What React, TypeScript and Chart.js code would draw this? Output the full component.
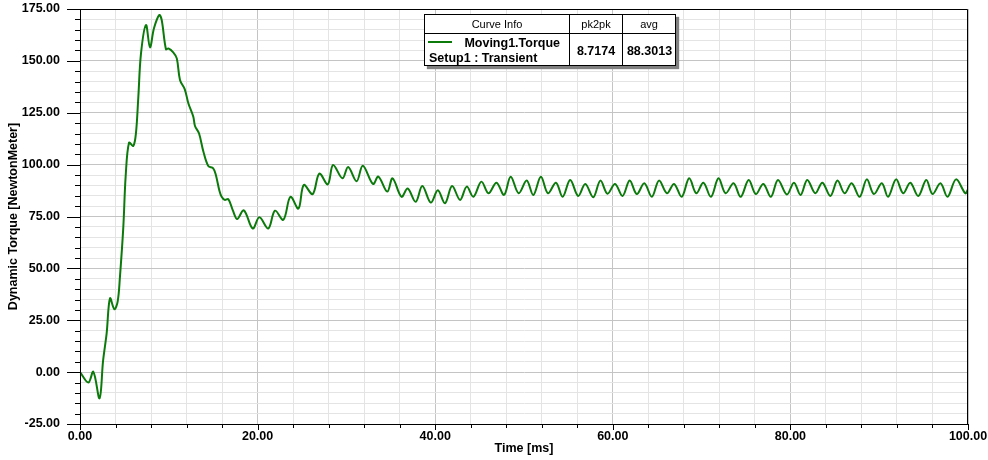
import React, { useEffect, useRef } from "react";
import { Chart, registerables } from "chart.js";

Chart.register(...registerables);

// ---- data ----
const timeMs = [
  0, 0.94, 1.5, 2.2, 2.6, 3.0, 3.38, 3.87, 4.24, 4.5,
  4.88, 5.14, 5.52, 6.0, 6.3, 6.57, 6.87, 7.43, 7.88, 8.33,
  8.93, 9.2, 9.68, 9.95, 10.5, 10.9, 11.26, 11.8, 12.2, 12.76,
  12.95, 13.4, 13.9, 14.45, 15.0, 15.3, 15.7, 15.95, 16.3, 16.7,
  17.2, 17.7, 18.45, 19.45, 20.2, 21.2, 21.96, 22.9, 23.7, 24.6,
  25.2, 26.2, 26.95, 27.9, 28.5, 29.55, 30.2, 31.15, 31.85, 33.0,
  33.6, 34.6, 35.2, 36.2, 36.9, 37.8, 38.55, 39.5, 40.3, 41.1,
  41.9, 42.8, 43.55, 44.3, 45.2, 46.0, 46.9, 47.75, 48.5, 49.4,
  50.3, 51.05, 51.9, 52.7, 53.6, 54.35, 55.2, 56.1, 56.9, 57.8,
  58.6, 59.4, 60.25, 61.1, 61.9, 62.7, 63.55, 64.4, 65.2, 66.1,
  66.9, 67.76, 68.6, 69.4, 70.2, 71.05, 71.9, 72.7, 73.6, 74.4,
  75.3, 76.1, 76.95, 77.8, 78.6, 79.6, 80.4, 81.15, 81.9, 82.8,
  83.6, 84.5, 85.3, 86.1, 86.9, 87.8, 88.6, 89.4, 90.3, 91.0,
  91.9, 92.7, 93.5, 94.4, 95.3, 96.0, 96.9, 97.7, 98.65, 99.7,
  100,
];

const torque = [
  0, -5.0, 0.2, -12.6, 5.5, 18.7, 35.6, 30.3, 34, 46,
  70.1, 94.2, 110.6, 109, 115.1, 132.7, 153.6, 167.3, 156.5, 165.7,
  172.1, 169.7, 155.6, 156, 154.1, 151.2, 140.8, 136.3, 129.6, 123.1,
  118.6, 115.1, 106.2, 99.3, 98.2, 95, 87.4, 84.5, 83, 83.4,
  78.1, 73.8, 78, 69.2, 74.6, 69.2, 77.8, 73.4, 84.5, 78.8,
  90.2, 85.8, 95.7, 90.5, 99.8, 93.4, 98.9, 92, 99.5, 90.7,
  94.2, 87, 93.4, 84.5, 88.5, 82.1, 89.7, 81.7, 87.6, 81.4,
  89.7, 83, 89.4, 84.5, 91.8, 86.2, 91.3, 85.4, 94.2, 86.2,
  92.3, 85.4, 94.2, 86.2, 91.3, 84.5, 92.6, 84.9, 90.7, 84.3,
  92.3, 86.0, 90.7, 84.9, 92.3, 85.8, 91.0, 84.5, 92.3, 86.2,
  90.7, 84.5, 93.4, 86.2, 91.3, 84.5, 93.4, 86.2, 91.0, 84.5,
  92.6, 85.8, 90.7, 84.5, 92.6, 85.6, 91.3, 85.4, 92.6, 86.2,
  91.3, 84.9, 92.3, 86.2, 91.0, 84.5, 92.9, 85.8, 91.0, 84.5,
  92.9, 86.2, 91.3, 84.9, 92.6, 85.8, 91.0, 84.5, 92.9, 86.2,
  88.1,
];

const seriesName = "Moving1.Torque";
const seriesSetup = "Setup1 : Transient";
const infoHeaders = ["Curve Info", "pk2pk", "avg"];
const infoValues = ["8.7174", "88.3013"];

const xMin = 0;
const xMax = 100;
const xStep = 4;
const xMajor = 20;
const yMin = -25;
const yMax = 175;
const yStep = 5;
const yMajor = 25;

const xTitle = "Time [ms]";
const yTitle = "Dynamic Torque [NewtonMeter]";

const FONT = "'Liberation Sans', Arial, Helvetica, sans-serif";
const LINE_COLOR = "#0b7a0b";
const MINOR_GRID = "#e4e4e4";
const MAJOR_GRID = "#c4c4c4";

const isMult = (v: number, m: number) => Math.abs(v / m - Math.round(v / m)) < 1e-6;

const framePlugin = {
  id: "frameTicks",
  afterDraw(chart: any) {
    const { ctx, chartArea } = chart;
    const { left, right, top, bottom } = chartArea;
    const xs = chart.scales.x;
    const ys = chart.scales.y;
    ctx.save();
    ctx.strokeStyle = "#000";
    ctx.lineWidth = 1;
    ctx.beginPath();
    ctx.rect(Math.round(left) + 0.5, Math.round(top) + 0.5, Math.round(right - left) - 1, Math.round(bottom - top));
    ctx.stroke();
    ctx.beginPath();
    ys.ticks.forEach((t: any) => {
      const py = Math.round(ys.getPixelForValue(t.value)) + 0.5;
      const len = isMult(t.value, yMajor) ? 13 : 5;
      ctx.moveTo(left - len, py);
      ctx.lineTo(left, py);
    });
    xs.ticks.forEach((t: any) => {
      const px = Math.round(xs.getPixelForValue(t.value)) + 0.5;
      const len = isMult(t.value, xMajor) ? 6 : 4;
      ctx.moveTo(px, bottom);
      ctx.lineTo(px, bottom + len);
    });
    ctx.stroke();
    ctx.restore();
  },
};

function InfoBox() {
  const abs = (s: React.CSSProperties): React.CSSProperties => ({ position: "absolute", ...s });
  const bold: React.CSSProperties = { fontFamily: FONT, fontWeight: "bold", fontSize: "12.5px", lineHeight: "14px", whiteSpace: "nowrap", color: "#000" };
  const reg: React.CSSProperties = { fontFamily: FONT, fontSize: "11px", lineHeight: "13px", whiteSpace: "nowrap", color: "#000" };
  return (
    <>
      <div style={abs({ left: 424, top: 14, width: 252, height: 52, boxSizing: "border-box", border: "1px solid #000", background: "#fff", boxShadow: "3px 3px 1px #808080" })} />
      <div style={abs({ left: 424, top: 33, width: 252, height: 1, background: "#000" })} />
      <div style={abs({ left: 569, top: 14, width: 1, height: 52, background: "#000" })} />
      <div style={abs({ left: 622, top: 14, width: 1, height: 52, background: "#000" })} />
      <div style={abs({ ...reg, left: 425, top: 18, width: 144, textAlign: "center" })}>{infoHeaders[0]}</div>
      <div style={abs({ ...reg, left: 570, top: 18, width: 52, textAlign: "center" })}>{infoHeaders[1]}</div>
      <div style={abs({ ...reg, left: 623, top: 18, width: 52, textAlign: "center" })}>{infoHeaders[2]}</div>
      <div style={abs({ left: 428, top: 41, width: 24, height: 2, background: LINE_COLOR })} />
      <div style={abs({ ...bold, left: 440, top: 36, width: 120, textAlign: "right" })}>{seriesName}</div>
      <div style={abs({ ...bold, left: 429, top: 51 })}>{seriesSetup}</div>
      <div style={abs({ ...bold, left: 570, top: 44, width: 52, textAlign: "center" })}>{infoValues[0]}</div>
      <div style={abs({ ...bold, left: 623, top: 44, width: 53, textAlign: "center" })}>{infoValues[1]}</div>
    </>
  );
}

export default function App() {
  const canvasRef = useRef<HTMLCanvasElement | null>(null);

  useEffect(() => {
    const canvas = canvasRef.current;
    if (!canvas) return;
    const points = timeMs.map((t, i) => ({ x: t, y: torque[i] }));
    const tickFont = { family: FONT, size: 12.5, weight: "bold" as const };
    const chart = new Chart(canvas, {
      type: "line",
      data: {
        datasets: [
          {
            label: seriesName,
            data: points,
            borderColor: LINE_COLOR,
            borderWidth: 2,
            pointRadius: 0,
            tension: 0.35,
            fill: false,
          },
        ],
      },
      options: {
        responsive: false,
        animation: false,
        events: [],
        layout: { padding: { left: 0, right: 20, top: 9, bottom: 0 } },
        plugins: { legend: { display: false }, tooltip: { enabled: false }, title: { display: false } },
        scales: {
          x: {
            type: "linear",
            min: xMin,
            max: xMax,
            afterFit: (s: any) => { s.height = 36; s.paddingLeft = 0; s.paddingRight = 0; },
            ticks: {
              stepSize: xStep,
              autoSkip: false,
              maxRotation: 0,
              padding: 5,
              color: "#000",
              font: tickFont,
              callback: (v: any) => (isMult(Number(v), xMajor) ? Number(v).toFixed(2) : ""),
            },
            grid: {
              drawTicks: false,
              color: (c: any) => (isMult(c.tick?.value ?? 0, xMajor) ? MAJOR_GRID : MINOR_GRID),
              lineWidth: 1,
            },
            border: { display: true, color: "#000", width: 1 },
            title: { display: true, text: xTitle, color: "#000", font: tickFont, padding: { top: 0, bottom: 4 } },
          },
          y: {
            type: "linear",
            min: yMin,
            max: yMax,
            afterFit: (s: any) => { s.width = 80; s.paddingTop = 0; s.paddingBottom = 0; },
            ticks: {
              stepSize: yStep,
              autoSkip: false,
              padding: 20,
              color: "#000",
              font: tickFont,
              callback: (v: any) => (isMult(Number(v), yMajor) ? Number(v).toFixed(2) : ""),
            },
            grid: {
              drawTicks: false,
              color: (c: any) => (isMult(c.tick?.value ?? 0, yMajor) ? MAJOR_GRID : MINOR_GRID),
              lineWidth: 1,
            },
            border: { display: true, color: "#000", width: 1 },
            title: { display: true, text: yTitle, color: "#000", font: tickFont, padding: { top: 6, bottom: 0 } },
          },
        },
      },
      plugins: [framePlugin],
    });
    return () => chart.destroy();
  }, []);

  return (
    <div style={{ position: "absolute", left: 0, top: 0, width: 988, height: 460, background: "#fff", overflow: "hidden" }}>
      <canvas ref={canvasRef} width={988} height={460} style={{ position: "absolute", left: 0, top: 0, width: 988, height: 460 }} />
      <InfoBox />
    </div>
  );
}
